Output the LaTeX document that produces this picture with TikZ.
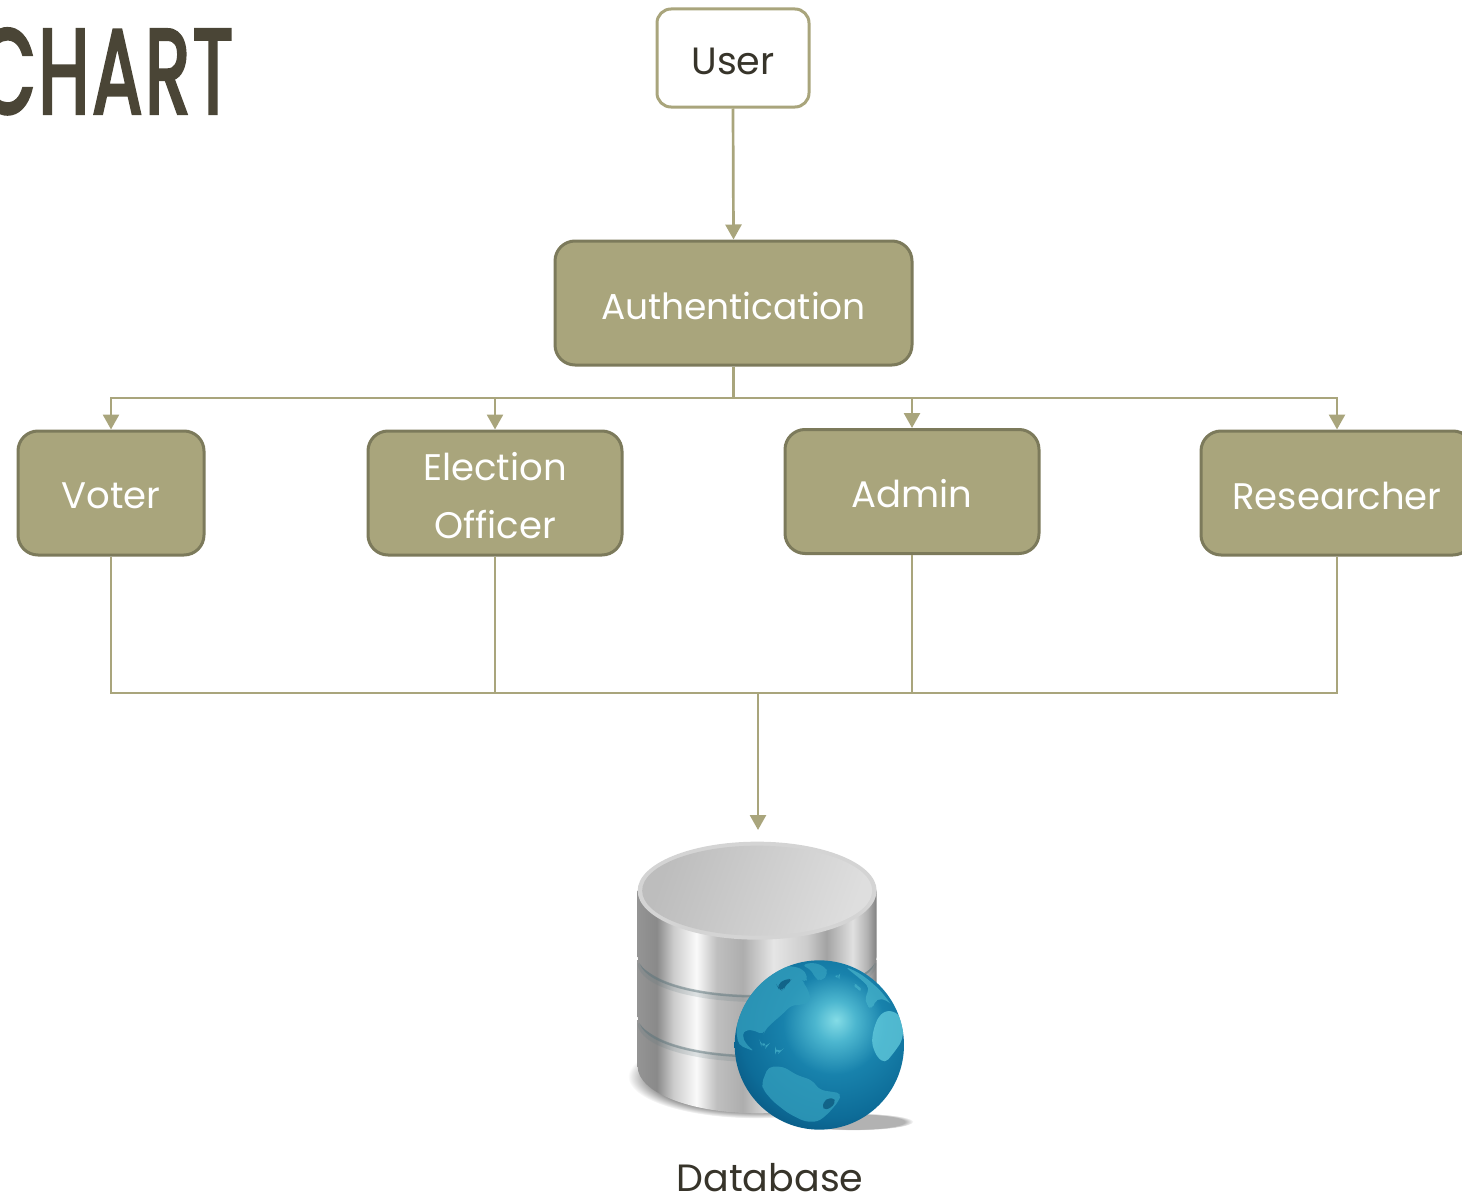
\documentclass[tikz,border=0pt]{standalone}
\usepackage{fontspec}
\setmainfont{Poppins}
\usetikzlibrary{arrows.meta,fadings,shadings,positioning}
\definecolor{olive}{HTML}{A9A57C}
\definecolor{olivedark}{HTML}{7C7A5B}
\definecolor{inktext}{HTML}{37342A}
\definecolor{titleink}{HTML}{4A4536}
\definecolor{globeA}{RGB}{132,220,230}
\definecolor{globeB}{RGB}{76,182,207}
\definecolor{globeC}{RGB}{24,130,172}
\definecolor{globeD}{RGB}{13,108,152}
\definecolor{globeE}{RGB}{9,86,128}
\definecolor{landA}{RGB}{70,178,202}
\definecolor{landB}{RGB}{100,205,222}
\definecolor{landC}{RGB}{52,160,190}
\definecolor{landD}{RGB}{10,84,122}
\definecolor{gapshade}{RGB}{95,118,124}
\pgfdeclarehorizontalshading{metal}{100bp}{
 color(0bp)=(black!42);
 color(25bp)=(black!42);
 color(29bp)=(black!46);
 color(32.5bp)=(black!20);
 color(37.3bp)=(black!2);
 color(41.5bp)=(black!25);
 color(47bp)=(black!32);
 color(53.4bp)=(black!10);
 color(60.3bp)=(black!20);
 color(64.5bp)=(black!36);
 color(70bp)=(black!12);
 color(73bp)=(black!30);
 color(75bp)=(black!50);
 color(100bp)=(black!50)}
\pgfdeclareradialshading{globeshade}{\pgfpoint{5bp}{7.4bp}}{
 color(0bp)=(globeA);
 color(6bp)=(globeB);
 color(15bp)=(globeC);
 color(27bp)=(globeD);
 color(34bp)=(globeE);
 color(100bp)=(globeE)}
\tikzset{
 boxbase/.style={draw=olivedark,fill=olive,line width=3pt,rounded corners=20pt,inner sep=0pt,anchor=center},
 userbox/.style={boxbase,draw=olive,fill=white,rounded corners=14pt},
 boxtext/.style={text=white,font=\fontsize{37}{58}\selectfont,align=center,inner sep=0pt},
 link/.style={draw=olive,line width=2.7pt},
 linkarrow/.style={link,-{Triangle[width=16pt,length=15pt]}},
 landmass/.style={fill=#1,draw=none,opacity=.75,rounded corners=5pt},
}
\begin{document}
\begin{tikzpicture}[x=1pt,y=-1pt]
\useasboundingbox (0,0) rectangle (1462,1199);
\clip (0,0) rectangle (1462,1199);
% title
\node[xscale=.62,transform shape,anchor=base east,inner sep=0pt,text=titleink,
  font=\fontsize{119}{119}\selectfont\addfontfeatures{LetterSpace=4,FakeBold=3.5}] (title) at (233,113) {CHART};
% boxes
\node[userbox,minimum width=152pt,minimum height=98pt] (user) at (733,58) {};
\node[boxtext,text=inktext,font=\fontsize{38}{40}\selectfont] (usertext) at (733,61) {User};
\node[boxbase,minimum width=357pt,minimum height=124pt] (auth) at (733.5,303) {};
\node[boxtext,font=\fontsize{36}{58}\selectfont] (authtext) at (733.5,306) {Authentication};
\node[boxbase,minimum width=186pt,minimum height=124pt] (voter) at (111,493) {};
\node[boxtext] (votertext) at (111,496) {Voter};
\node[boxbase,minimum width=254pt,minimum height=124pt] (officer) at (495,493) {};
\node[boxtext] (officertext) at (495,496) {Election\\Officer};
\node[boxbase,minimum width=254pt,minimum height=124pt] (admin) at (912,491.5) {};
\node[boxtext] (admintext) at (912,494) {Admin};
\node[boxbase,minimum width=272pt,minimum height=124pt] (research) at (1337,493) {};
\node[boxtext] (researchtext) at (1337,496) {Researcher};
% connectors
\coordinate (bustop) at (733.5,398);
\coordinate (busbot) at (758,693);
\coordinate (dbtip) at (758,830);
\draw[linkarrow] (user.south) -- (auth.north);
\draw[link] (auth.south) -- (bustop);
\draw[linkarrow] (bustop) -| (voter.north);
\draw[linkarrow] (bustop) -| (officer.north);
\draw[linkarrow] (bustop) -| (admin.north);
\draw[linkarrow] (bustop) -| (research.north);
\draw[link] (voter.south) |- (busbot);
\draw[link] (officer.south) |- (busbot);
\draw[link] (admin.south) |- (busbot);
\draw[link] (research.south) |- (busbot);
\draw[linkarrow] (busbot) -- (dbtip);
% database icon: cylinder
\begin{scope}[shift={(600,820)},x=.3333pt,y=-.3333pt]
 \fill[black!40,path fading=circle with fuzzy edge 15 percent] (470,770) ellipse [x radius=385,y radius=125];
 \fill[black!30,path fading=circle with fuzzy edge 15 percent] (760,905) ellipse [x radius=180,y radius=26];
 % layer 3
 \shade[shading=metal] (113,600) -- (113,740) arc[start angle=180,end angle=0,x radius=358.5,y radius=140] -- (830,600) -- cycle;
 \draw[line width=6pt,color=gapshade,opacity=.18] (122,609) arc[start angle=180,end angle=0,x radius=349.5,y radius=108];
 \draw[line width=2.5pt,color=gapshade,opacity=.5] (122,601) arc[start angle=180,end angle=0,x radius=349.5,y radius=108];
 % layer 2
 \shade[shading=metal] (113,420) -- (113,590) arc[start angle=180,end angle=0,x radius=358.5,y radius=110] -- (830,420) -- cycle;
 \draw[line width=6pt,color=gapshade,opacity=.18] (122,429) arc[start angle=180,end angle=0,x radius=349.5,y radius=108];
 \draw[line width=2.5pt,color=gapshade,opacity=.5] (122,421) arc[start angle=180,end angle=0,x radius=349.5,y radius=108];
 % layer 1
 \shade[shading=metal] (113,212) -- (113,410) arc[start angle=180,end angle=0,x radius=358.5,y radius=110] -- (830,212) -- cycle;
 % top
 \fill[black!17] (471.5,212) ellipse [x radius=358.5,y radius=147];
 \shade[left color=black!26,right color=black!13,shading angle=70] (471.5,212) ellipse [x radius=345,y radius=135];
\end{scope}
% database icon: globe
\begin{scope}[shift={(730,955)},x=.3333pt,y=-.3333pt]
 \shade[shading=globeshade] (268,270) circle [radius=254];
 \begin{scope}
  \clip (268,270) circle [radius=254];
  \fill[landmass=landC] (100,70)--(140,45)--(175,32)--(215,40)--(235,65)--(225,85)--(215,75)--(235,105)--(243,140)--(215,150)--(185,150)--(160,175)--(125,205)--(105,225)--(100,240)--(70,225)--(45,225)--(35,240)--(50,270)--(75,290)--(25,270)--(18,220)--(35,160)--(65,110)--cycle;
  \fill[landmass=landD] (140,90)--(170,70)--(190,75)--(165,90)--(160,110)--(145,100)--cycle;
  \fill[landmass=landC] (215,30)--(250,22)--(285,35)--(295,55)--(275,80)--(255,70)--(245,45)--cycle;
  \fill[landmass=landA] (345,35)--(380,50)--(410,70)--(450,105)--(485,150)--(470,135)--(440,130)--(425,165)--(410,150)--(405,125)--(420,100)--(395,75)--cycle;
  \fill[landmass=landA] (368,85)--(385,90)--(398,110)--(380,103)--cycle;
  \fill[landmass=landA] (312,64)--(330,58)--(328,70)--cycle;
  \fill[landmass=landB] (505,175)--(470,165)--(445,185)--(430,225)--(425,265)--(440,305)--(465,325)--(490,295)--(515,260)--(522,215)--cycle;
  \fill[landmass=landC] (115,335)--(160,335)--(200,360)--(245,375)--(270,405)--(335,415)--(325,440)--(295,475)--(265,500)--(225,500)--(175,475)--(130,440)--(100,405)--(95,385)--cycle;
  \fill[landmass=landD] (285,430)--(320,430)--(305,460)--(275,465)--cycle;
  \fill[landmass=landA] (90,260)--(115,270)--(110,276)--(92,268)--cycle;
  \fill[landmass=landA] (135,284)--(155,286)--(150,291)--(135,289)--cycle;
 \end{scope}
\end{scope}
\node[text=inktext,inner sep=0pt,font=\fontsize{38}{40}\selectfont] (dblabel) at (770,1178) {Database};
\end{tikzpicture}
\end{document}
